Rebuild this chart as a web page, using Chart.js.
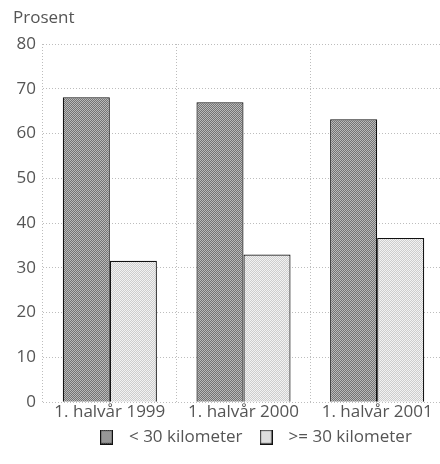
<!DOCTYPE html>
<html>
<head>
<meta charset="utf-8">
<script src="https://cdn.jsdelivr.net/npm/chart.js@4"></script>
<style>
html,body{margin:0;padding:0;background:#fff;overflow:hidden;}
#wrap{width:444px;height:464px;}
</style>
</head>
<body>
<div id="wrap"><canvas id="c" width="444" height="464"></canvas></div>
<script>
const categories = ["1. halvår 1999", "1. halvår 2000", "1. halvår 2001"];
const seriesNames = ["< 30 kilometer", ">= 30 kilometer"];
const under30 = [68.1, 67.0, 63.2];
const over30 = [31.6, 33.0, 36.7];
const yTicks = [0, 10, 20, 30, 40, 50, 60, 70, 80];
const yTitle = "Prosent";

function makePattern(a, b) {
  const p = document.createElement('canvas');
  p.width = 2; p.height = 2;
  const x = p.getContext('2d');
  x.fillStyle = a; x.fillRect(0,0,2,2);
  x.fillStyle = b; x.fillRect(0,0,1,1); x.fillRect(1,1,1,1);
  return x.createPattern(p, 'repeat');
}
function makeSwatch(fill) {
  const s = document.createElement('canvas');
  s.width = 13; s.height = 15;
  const x = s.getContext('2d');
  x.fillStyle = fill; x.fillRect(0, 0, 13, 15);
  x.strokeStyle = '#111'; x.lineWidth = 1.2;
  x.strokeRect(0.6, 0.6, 11.8, 13.8);
  return s;
}
const ctx = document.getElementById('c').getContext('2d');
const darkFill = makePattern('#747474', '#bababa');
const lightFill = makePattern('#cdcdcd', '#f2f2f2');
const swatches = [makeSwatch(darkFill), makeSwatch(lightFill)];

const FONT = '"Open Sans", "DejaVu Sans", sans-serif';
const FS = 17;
const TXT = '#555';
const LEGEND_LEFT = 83;

const helperPlugin = {
  id: 'helper',
  beforeDraw(chart) {
    // let the x tick labels extend below their (narrow) layout box
    chart.scales.x.bottom = chart.height;
    // place the legend row like the original
    const lg = chart.legend;
    const w = lg.right - lg.left;
    lg.left = LEGEND_LEFT;
    lg.right = LEGEND_LEFT + w;
  },
  afterDraw(chart) {
    const c = chart.ctx;
    c.save();
    c.font = FS + 'px ' + FONT;
    c.fillStyle = TXT;
    c.textBaseline = 'middle';
    c.textAlign = 'left';
    c.fillText(yTitle, 13, 18);
    c.restore();
  }
};

new Chart(ctx, {
  type: 'bar',
  data: {
    labels: categories,
    datasets: [
      { label: seriesNames[0], data: under30, backgroundColor: darkFill, borderColor: '#111', borderWidth: 1.2 },
      { label: seriesNames[1], data: over30, backgroundColor: lightFill, borderColor: '#111', borderWidth: 1.2 }
    ]
  },
  plugins: [helperPlugin],
  options: {
    responsive: false,
    animation: false,
    devicePixelRatio: 1,
    layout: { padding: { top: 44, left: 0, right: 0, bottom: 8.5 } },
    datasets: { bar: { categoryPercentage: 0.704, barPercentage: 1.0 } },
    plugins: {
      tooltip: { enabled: false },
      legend: {
        position: 'bottom',
        align: 'start',
        labels: {
          usePointStyle: true,
          pointStyleWidth: 28,
          boxHeight: 15,
          padding: 9.5,
          color: TXT,
          font: { family: FONT, size: FS },
          generateLabels(chart) {
            const items = Chart.defaults.plugins.legend.labels.generateLabels(chart);
            items.forEach((it, i) => { it.pointStyle = swatches[i]; });
            return items;
          }
        }
      }
    },
    scales: {
      x: {
        afterFit(scale) { scale.height = 16.8; },
        grid: { display: true, offset: true, color: '#bdbdbd', drawTicks: false, lineWidth: 1 },
        border: { display: false, dash: [1, 2] },
        ticks: { color: TXT, padding: 0, font: { family: FONT, size: FS }, maxRotation: 0 }
      },
      y: {
        min: 0, max: 80,
        afterBuildTicks(scale) { scale.ticks = yTicks.map(v => ({ value: v })); },
        afterFit(scale) { scale.width = 43; },
        grid: { color: '#bdbdbd', drawTicks: false, lineWidth: 1 },
        border: { display: false, dash: [1, 2] },
        ticks: { color: TXT, padding: 7, font: { family: FONT, size: FS } }
      }
    }
  }
});
</script>
</body>
</html>
